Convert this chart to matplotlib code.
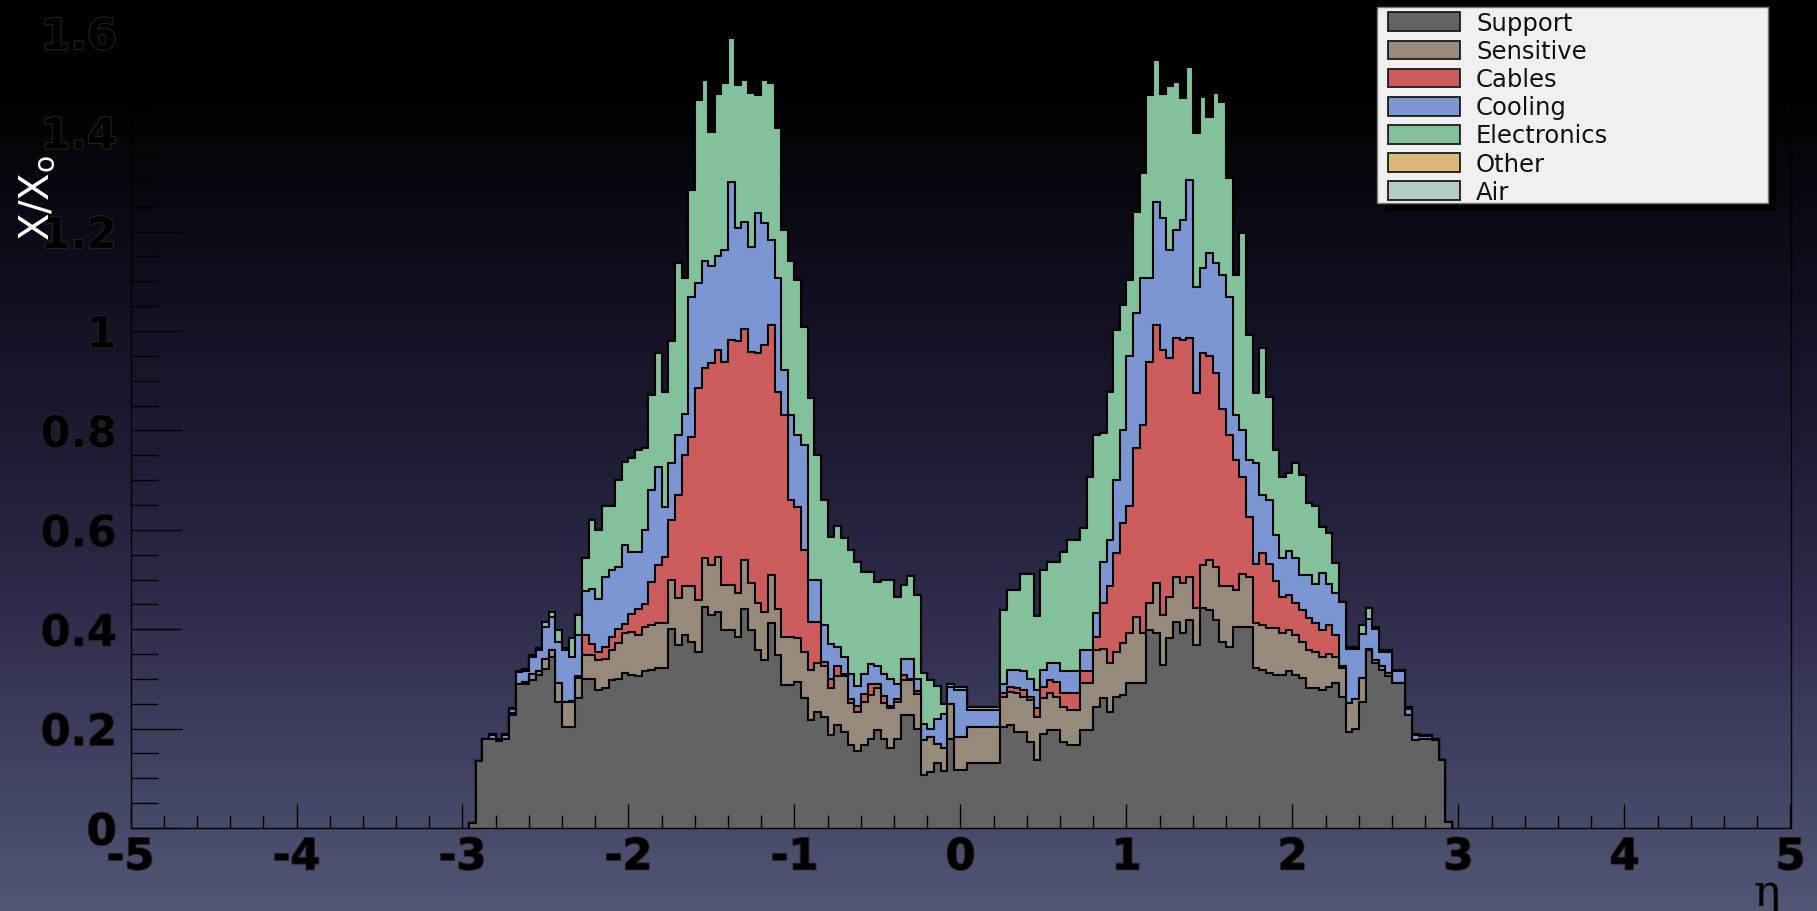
import numpy as np
import matplotlib
matplotlib.use("Agg")
import matplotlib.pyplot as plt
from matplotlib.colors import LinearSegmentedColormap
from matplotlib.patches import Rectangle
import matplotlib.patheffects as pe

plt.rcParams["axes.unicode_minus"] = False

# Radiation length per eta bin (bin width 0.04, from eta = -2.96 to 2.96)
support = [
    .01, .135, .18, .18, .175, .18, .228, .29, .29, .298,
    .308, .32, .345, .254, .204, .204, .261, .30, .30, .278,
    .281, .298, .30, .311, .308, .305, .315, .318, .321, .321,
    .40, .368, .388, .375, .355, .445, .429, .435, .398, .398,
    .385, .44, .398, .358, .338, .412, .348, .288, .288, .294,
    .261, .217, .234, .224, .187, .207, .194, .167, .154, .167,
    .18, .197, .18, .16, .18, .227, .227, .20, .107, .113,
    .13, .115, .18, .117, .117, .13, .13, .13, .13, .13,
    .204, .207, .194, .194, .174, .137, .19, .197, .197, .174,
    .167, .167, .197, .197, .244, .261, .234, .264, .268, .291,
    .291, .291, .398, .392, .328, .382, .415, .392, .418, .368,
    .442, .439, .418, .375, .365, .405, .405, .405, .321, .318,
    .311, .308, .308, .315, .308, .301, .281, .281, .278, .284,
    .291, .264, .194, .20, .254, .358, .331, .318, .305, .291,
    .291, .227, .177, .18, .18, .177, .137, .013,
]
sensitive = [
    0, 0, 0, 0, 0, 0, .004, 0, .003, .012,
    .007, .02, .013, .037, .05, .05, .04, .048, .048, .06,
    .06, .06, .072, .081, .087, .083, .09, .09, .091, .091,
    .098, .094, .099, .111, .104, .099, .10, .11, .091, .091,
    .087, .099, .094, .094, .097, .097, .092, .097, .097, .088,
    .094, .101, .097, .101, .094, .098, .111, .084, .08, .087,
    .088, .084, .071, .081, .074, .071, .071, .07, .07, .071,
    .04, .045, .07, .066, .067, .074, .074, .074, .074, .074,
    .06, .067, .077, .07, .084, .087, .071, .074, .067, .07,
    .07, .07, .094, .094, .114, .10, .097, .091, .104, .101,
    .134, .101, .054, .10, .101, .083, .091, .10, .088, .074,
    .087, .10, .108, .111, .121, .074, .107, .101, .091, .09,
    .091, .094, .084, .083, .08, .074, .077, .074, .067, .067,
    .054, .057, .057, .06, .047, .002, .007, .007, .006, 0,
    0, 0, 0, 0, 0, 0, 0, 0,
]
cables = [
    0, 0, 0, 0, 0, 0, 0, 0, 0, 0,
    0, 0, 0, 0, 0, .002, .004, .04, .022, .017,
    .024, .027, .028, .018, .035, .052, .045, .087, .118, .134,
    .122, .208, .263, .301, .426, .381, .406, .417, .449, .493,
    .507, .466, .466, .503, .537, .503, .438, .446, .275, .263,
    .205, .097, .084, .01, .019, .02, .005, .009, .011, .016,
    .022, .009, .014, .004, .006, .01, .002, .005, 0, 0,
    0, 0, 0, 0, 0, 0, 0, 0, 0, 0,
    .007, .01, .01, .014, .006, .017, .023, .027, .03, .027,
    .034, .034, .024, .024, .027, .091, .155, .198, .241, .255,
    .339, .419, .486, .52, .533, .48, .479, .49, .479, .433,
    .426, .411, .389, .358, .304, .261, .195, .12, .12, .145,
    .13, .094, .073, .071, .064, .064, .064, .057, .053, .057,
    .043, .004, 0, 0, 0, 0, 0, 0, 0, 0,
    0, 0, 0, 0, 0, 0, 0, 0,
]
cooling = [
    0, 0, 0, .007, .003, .008, .008, .024, .023, .035,
    .043, .065, .067, .084, .104, .089, .083, .088, .11, .105,
    .14, .135, .125, .16, .125, .115, .15, .185, .197, .10,
    .114, .12, .084, .282, .211, .215, .195, .188, .225, .318,
    .228, .215, .212, .282, .245, .171, .228, .09, .171, .146,
    .21, .085, .085, .073, .07, .04, .035, .05, .04, .04,
    .04, .035, .045, .055, .03, .032, .04, .025, .033, .016,
    .05, .07, .034, .095, .094, .033, .033, .033, .033, .033,
    .019, .034, .037, .037, .036, .037, .034, .033, .037, .044,
    .044, .044, .043, .043, .047, .084, .094, .147, .187, .303,
    .272, .295, .168, .248, .265, .218, .218, .241, .319, .214,
    .171, .206, .221, .269, .279, .091, .093, .114, .203, .117,
    .128, .094, .078, .088, .091, .071, .087, .078, .115, .082,
    .085, .13, .109, .10, .089, .06, .062, .03, .044, .024,
    .024, .013, .01, .005, .005, .003, 0, 0,
]
electronics = [
    0, 0, 0, .003, .002, .002, .002, .002, .004, .003,
    .004, .01, .01, .023, .004, .037, .04, .067, .14, .14,
    .142, .127, .175, .167, .19, .205, .164, .191, .228, .232,
    .245, .346, .272, .215, .369, .365, .27, .326, .337, .289,
    .288, .285, .308, .238, .288, .317, .302, .282, .309, .312,
    .239, .365, .25, .252, .215, .242, .238, .249, .251, .205,
    .185, .17, .19, .20, .175, .148, .168, .168, .101, .098,
    .065, .02, .006, .006, .006, .007, .007, .007, .007, .007,
    .148, .16, .16, .197, .212, .148, .201, .205, .205, .241,
    .264, .264, .245, .349, .358, .258, .298, .302, .252, .153,
    .204, .211, .369, .285, .25, .33, .299, .245, .228, .309,
    .345, .275, .342, .347, .238, .282, .397, .252, .14, .295,
    .208, .17, .164, .157, .191, .20, .144, .157, .093, .103,
    .06, 0, .005, .005, .018, .022, .005, .003, .003, .003,
    .003, .004, .003, .002, .002, 0, 0, 0,
]
other = [0.0] * len(support)
air = [0.0] * len(support)

materials = ["Support", "Sensitive", "Cables", "Cooling", "Electronics", "Other", "Air"]
colors = ["#636363", "#978a7a", "#cd5c5c", "#7b96d2", "#83c19d", "#dcb878", "#b2cdc5"]
eta_min, eta_max = -2.96, 2.96
edges = np.linspace(eta_min, eta_max, len(support) + 1)

x_ticks = [-5, -4, -3, -2, -1, 0, 1, 2, 3, 4, 5]
y_ticks = [0, 0.2, 0.4, 0.6, 0.8, 1.0, 1.2, 1.4, 1.6]
y_tick_labels = ["0", "0.2", "0.4", "0.6", "0.8", "1", "1.2", "1.4", "1.6"]

W, H, DPI = 1817, 911, 100
fig = plt.figure(figsize=(W / DPI, H / DPI), dpi=DPI)


def fx(px):
    return px / W


def fy(py):
    return 1 - py / H


# slide-style vertical gradient behind everything
bg = fig.add_axes([0, 0, 1, 1], zorder=-10)
bg_cmap = LinearSegmentedColormap.from_list("slide", [
    (0.00, "#000000"), (0.10, "#010102"), (0.20, "#08070f"),
    (0.33, "#121020"), (0.50, "#1f1c35"), (0.65, "#2c2a48"),
    (0.78, "#3a3a5a"), (0.90, "#474968"), (1.00, "#535675"),
])
bg.imshow(np.linspace(0, 1, 512)[:, None], aspect="auto", cmap=bg_cmap,
          extent=[0, 1, 0, 1])
bg.set_axis_off()

ax = fig.add_axes([fx(130.5), 1 - 828 / H, fx(1660), 828 / H])
ax.set_facecolor("none")
ax.set_xlim(-5, 5)
ax.set_ylim(0, 828 / 497)

# stacked histogram: cumulative outlines drawn from the total down
layers = np.array([support, sensitive, cables, cooling, electronics, other, air])
cum = np.cumsum(layers, axis=0)
n = len(layers)
for i in range(n - 1, -1, -1):
    ax.stairs(cum[i], edges, baseline=0, fill=True, facecolor=colors[i],
              edgecolor="black", linewidth=1.5, zorder=1 + 0.1 * (n - i))

ax.set_axisbelow(False)
ax.set_xticks(x_ticks)
ax.set_xticklabels([str(t) for t in x_ticks])
ax.set_xticks(np.arange(-5, 5.001, 0.2), minor=True)
ax.set_yticks(y_ticks)
ax.set_yticklabels(y_tick_labels)
ax.set_yticks(np.arange(0, 1.651, 0.05), minor=True)

ax.tick_params(axis="x", which="major", direction="in", length=17, width=1.0,
               pad=6, labelsize=31, top=False, color="black")
ax.tick_params(axis="x", which="minor", direction="in", length=9.5, width=1.0,
               top=False, color="black")
ax.tick_params(axis="y", which="major", direction="in", length=37, width=1.0,
               pad=10, labelsize=31, right=False, color="black")
ax.tick_params(axis="y", which="minor", direction="in", length=19.5, width=1.0,
               right=False, color="black")
halo = [pe.withStroke(linewidth=1.4, foreground="#262626")]
for lab in ax.get_xticklabels() + ax.get_yticklabels():
    lab.set_fontweight("bold")
    lab.set_color("black")
    lab.set_path_effects(halo)
for side in ("left", "bottom", "right", "top"):
    ax.spines[side].set_color("black")
    ax.spines[side].set_linewidth(1.0)

# axis titles
fig.text(fx(37), fy(198), r"X/X$_{\mathrm{o}}$", rotation=90, color="white",
         fontsize=29, ha="center", va="center")
fig.text(fx(1767), fy(893), "η", fontsize=32, family="DejaVu Serif",
         ha="center", va="center", color="black")

# legend box with drop shadow
bx0, by0, bx1, by1 = 1376.7, 7.3, 1768.0, 203.0
fig.add_artist(Rectangle((fx(bx0 + 8), fy(by1 + 8)), fx(bx1 - bx0), (by1 - by0) / H,
                         transform=fig.transFigure, facecolor="black",
                         edgecolor="none", zorder=20))
fig.add_artist(Rectangle((fx(bx0), fy(by1)), fx(bx1 - bx0), (by1 - by0) / H,
                         transform=fig.transFigure, facecolor="#f0f0f0",
                         edgecolor="#7a7a7a", linewidth=1.0, zorder=21))
row0, row_step = 21.7, 28.17
for i, (name, col) in enumerate(zip(materials, colors)):
    cy = row0 + row_step * i
    fig.add_artist(Rectangle((fx(1388.3), fy(cy + 9.3)), fx(1460 - 1388.3), 18.6 / H,
                             transform=fig.transFigure, facecolor=col,
                             edgecolor="#1a1a1a", linewidth=1.3, zorder=22))
    fig.text(fx(1476), fy(cy + 9.0), name, fontsize=17.5, color="#111111",
             ha="left", va="baseline", zorder=23)

fig.savefig("out.png", dpi=DPI)
